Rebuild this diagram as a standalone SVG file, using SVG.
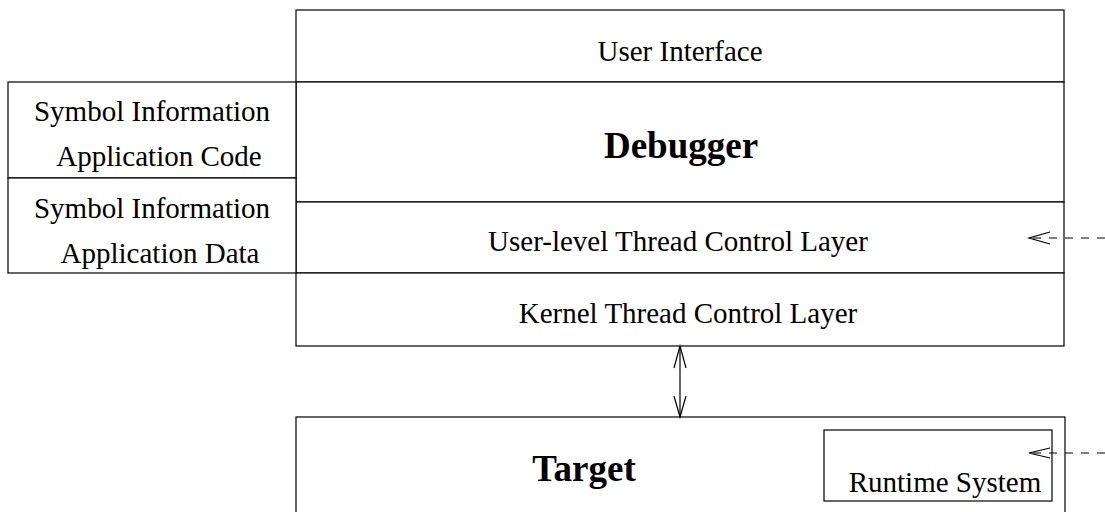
<svg xmlns="http://www.w3.org/2000/svg" width="1105" height="512" viewBox="0 0 1105 512">
  <style>
    .box { fill: #ffffff; stroke: #000000; stroke-width: 1.2; }
    .ln { stroke: #000000; stroke-width: 1.2; fill: none; }
    .lbl { font-family: "Liberation Serif", "Times New Roman", serif; font-size: 29px; fill: #000000; text-anchor: middle; }
    .big { font-family: "Liberation Serif", "Times New Roman", serif; font-size: 37px; font-weight: bold; fill: #000000; text-anchor: middle; }
    .dash { stroke: #000000; stroke-width: 1.2; stroke-dasharray: 8 8; fill: none; }
  </style>
  <rect width="1105" height="512" fill="#ffffff"/>

  <g id="user-interface">
    <rect class="box" x="296" y="10" width="768" height="72"/>
    <text class="lbl" x="680" y="61">User Interface</text>
  </g>

  <g id="debugger">
    <rect class="box" x="296" y="82" width="768" height="120"/>
    <text class="big" x="681" y="158">Debugger</text>
  </g>

  <g id="user-level-thread-control">
    <rect class="box" x="296" y="202" width="768" height="71"/>
    <text class="lbl" x="678" y="251">User-level Thread Control Layer</text>
  </g>

  <g id="kernel-thread-control">
    <rect class="box" x="296" y="273" width="768" height="73"/>
    <text class="lbl" x="688" y="323">Kernel Thread Control Layer</text>
  </g>

  <g id="symbol-code">
    <rect class="box" x="8" y="82" width="288" height="96"/>
    <text class="lbl" x="152" y="121">Symbol Information</text>
    <text class="lbl" x="159" y="166">Application Code</text>
  </g>

  <g id="symbol-data">
    <rect class="box" x="8" y="178" width="288" height="95"/>
    <text class="lbl" x="152" y="218">Symbol Information</text>
    <text class="lbl" x="160" y="263">Application Data</text>
  </g>

  <g id="target">
    <rect class="box" x="296" y="417" width="769" height="100"/>
    <text class="big" x="584" y="481" font-size="38">Target</text>
  </g>

  <g id="runtime-system">
    <rect class="box" x="824" y="430" width="228" height="71"/>
    <text class="lbl" x="945" y="492">Runtime System</text>
  </g>

  <g id="connectors">
    <!-- kernel layer <-> target -->
    <line class="ln" x1="680" y1="346" x2="680" y2="417"/>
    <polyline class="ln" points="674,368 680,346 686,368"/>
    <polyline class="ln" points="674,396 680,417 686,396"/>
    <!-- external hook into user-level layer -->
    <line class="dash" x1="1105" y1="238" x2="1030" y2="238"/>
    <polyline class="ln" points="1050,232 1029,238 1050,244"/>
    <!-- external hook into runtime system -->
    <line class="dash" x1="1105" y1="453" x2="1030" y2="453"/>
    <polyline class="ln" points="1050,448 1029,453 1050,458"/>
  </g>
</svg>
